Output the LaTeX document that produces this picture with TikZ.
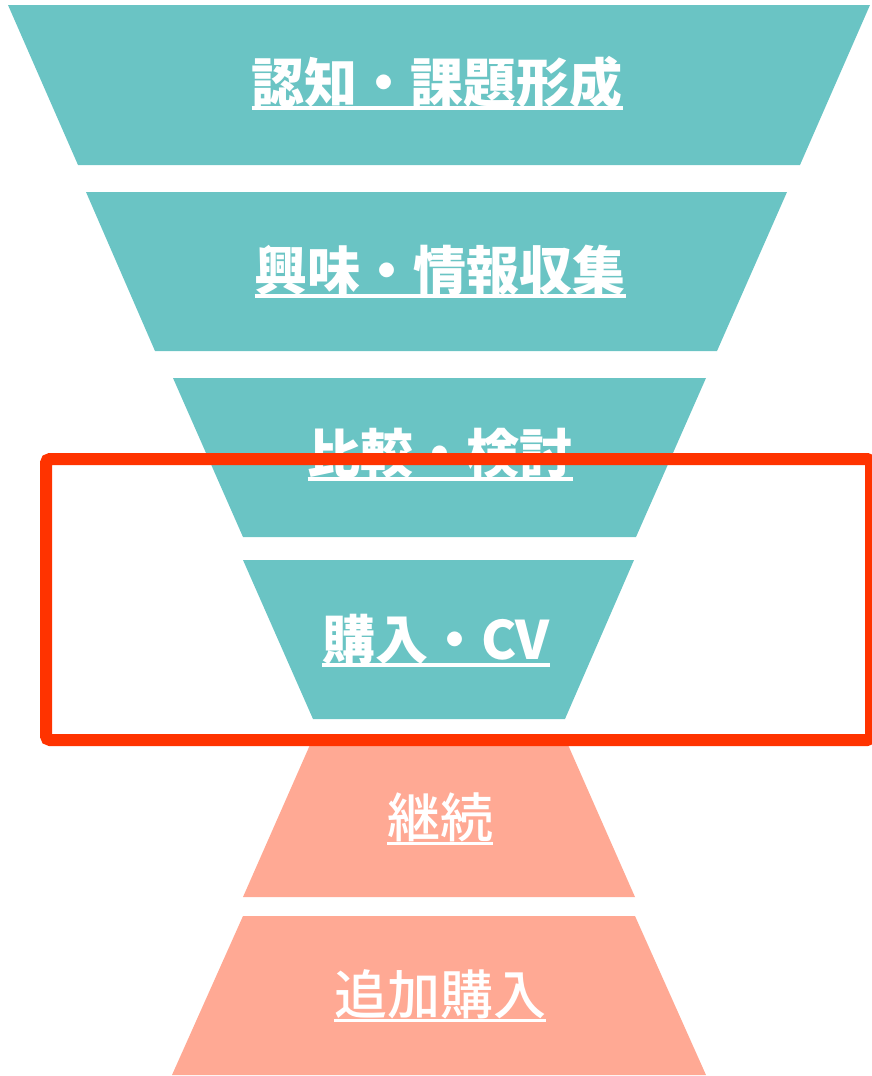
\documentclass[tikz,border=0pt]{standalone}
\usepackage{fontspec}
\newfontfamily\jp{Noto Sans CJK JP}
\newfontfamily\jpm{Noto Sans CJK JP Medium}
\definecolor{teal1}{HTML}{6AC4C4}
\definecolor{salmon1}{HTML}{FFA994}
\definecolor{red1}{HTML}{FF3300}
\tikzset{
  tealband/.style={fill=teal1, draw=none},
  salmonband/.style={fill=salmon1, draw=none},
  lab/.style={inner sep=0pt, outer sep=0pt, anchor=base, text=white, font=\jp\bfseries\fontsize{53}{53}\selectfont},
  labr/.style={lab, font=\jpm\fontsize{53}{53}\selectfont},
  ulthick/.style={draw=white, line width=4pt},
  ulthin/.style={draw=white, line width=3pt},
  redframe/.style={draw=red1, line width=12pt, rounded corners=4pt}
}
\begin{document}
\begin{tikzpicture}[x=1pt, y=-1pt]
\useasboundingbox (0,0) rectangle (871,1076);
% funnel bands
\path[tealband] (8,5) -- (870,5) -- (800,165) -- (78,165) -- cycle;
\path[tealband] (86,192) -- (787,192) -- (717,351) -- (155,351) -- cycle;
\path[tealband] (173,378) -- (706,378) -- (636,537) -- (243,537) -- cycle;
\path[tealband] (243,560) -- (634,560) -- (565,719) -- (313,719) -- cycle;
\path[salmonband] (313,738) -- (565,738) -- (635,897) -- (243,897) -- cycle;
\path[salmonband] (243,916) -- (635,916) -- (706,1075) -- (172,1075) -- cycle;
% labels
\node[lab] (t1) at (437,102) {認知・課題形成};
\node[lab] (t2) at (440,290) {興味・情報収集};
\node[lab] (t3) at (440,473) {比較・検討};
\node[lab] (t4) at (436,659) {購入・CV};
\node[labr] (t5) at (440,837) {継続};
\node[labr] (t6) at (440,1014) {追加購入};
% underlines
\draw[ulthick] ([yshift=-6pt]t1.base west) -- ([yshift=-6pt]t1.base east);
\draw[ulthick] ([yshift=-6pt]t2.base west) -- ([yshift=-6pt]t2.base east);
\draw[ulthick] ([yshift=-6pt]t3.base west) -- ([yshift=-6pt]t3.base east);
\draw[ulthick] ([yshift=-6pt]t4.base west) -- ([yshift=-6pt]t4.base east);
\draw[ulthin] ([yshift=-6pt]t5.base west) -- ([yshift=-6pt]t5.base east);
\draw[ulthin] ([yshift=-6pt]t6.base west) -- ([yshift=-6pt]t6.base east);
% highlight frame
\draw[redframe] (46,459) rectangle (871,740);
\end{tikzpicture}
\end{document}
